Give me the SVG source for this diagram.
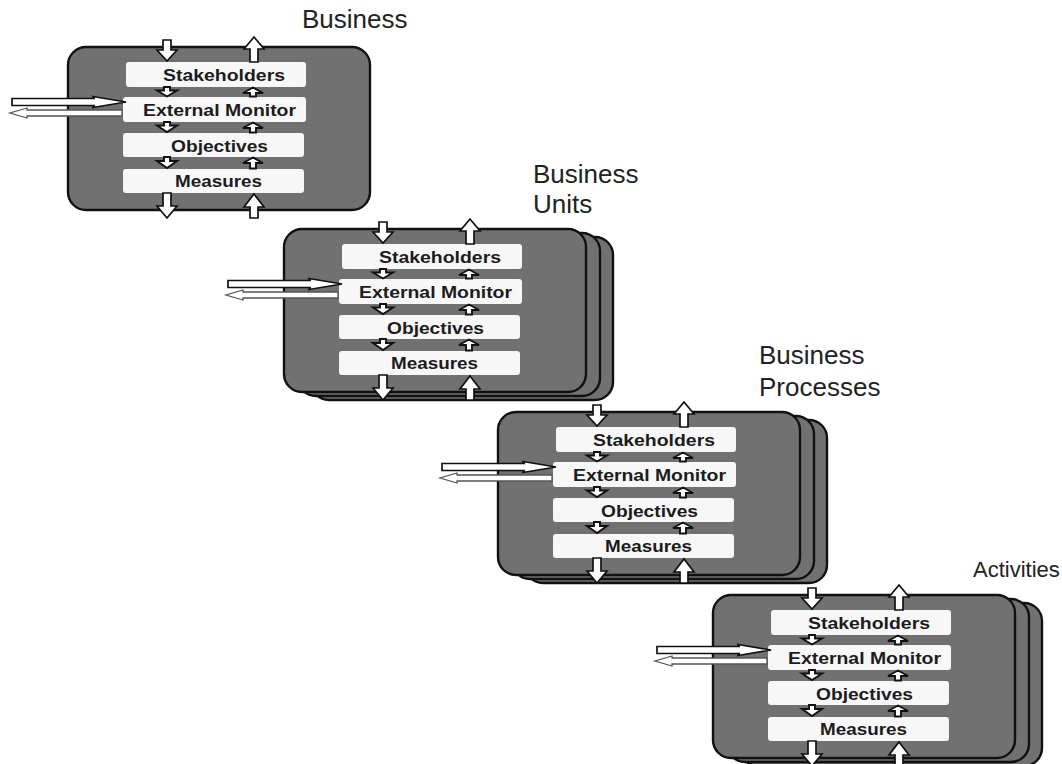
<svg xmlns="http://www.w3.org/2000/svg" width="1062" height="764" viewBox="0 0 1062 764">
<defs>
<style>
.card{fill:#717171;stroke:#111;stroke-width:2.4}
.item{fill:#f7f7f7}
.lbl{font-family:"Liberation Sans",Arial,sans-serif;font-weight:bold;font-size:16px;fill:#1c1c1c;text-anchor:middle}
.title{font-family:"Liberation Sans",Arial,sans-serif;font-size:26px;fill:#222}
.ar{fill:#fff;stroke:#111;stroke-width:1.7;stroke-linejoin:miter}
.sm{fill:#fff;stroke:#111;stroke-width:1.9;stroke-linejoin:miter}
.ar2{fill:#fff;stroke:#555;stroke-width:1.3}
</style>
</defs>
<rect width="1062" height="764" fill="#ffffff"/>

<text class="title" x="302" y="28">Business</text>
<text class="title" x="533" y="183">Business</text>
<text class="title" x="533" y="213">Units</text>
<text class="title" x="759" y="364">Business</text>
<text class="title" x="759" y="396">Processes</text>
<text class="title" x="973" y="577" style="font-size:22px">Activities</text>

<g id="business" transform="translate(0,0)">
  <rect class="card" x="68" y="47" width="302" height="163" rx="18"/>
  <g id="business-stakeholders"><rect class="item" x="126" y="62" width="180" height="25" rx="3"/><text class="lbl" x="224" y="81" textLength="122" lengthAdjust="spacingAndGlyphs">Stakeholders</text></g>
  <g id="business-monitor"><rect class="item" x="123" y="97" width="183" height="25" rx="3"/><text class="lbl" x="219.5" y="116" textLength="153" lengthAdjust="spacingAndGlyphs">External Monitor</text></g>
  <g id="business-objectives"><rect class="item" x="123" y="133" width="181" height="24" rx="3"/><text class="lbl" x="219.5" y="151.5" textLength="97" lengthAdjust="spacingAndGlyphs">Objectives</text></g>
  <g id="business-measures"><rect class="item" x="123" y="169" width="181" height="24" rx="3"/><text class="lbl" x="218.5" y="187" textLength="87" lengthAdjust="spacingAndGlyphs">Measures</text></g>
</g>

<g id="business-units" transform="translate(216,182)">
  <rect class="card" x="95" y="55" width="302" height="163" rx="18"/>
  <rect class="card" x="82" y="51" width="302" height="163" rx="18"/>
  <rect class="card" x="68" y="47" width="302" height="163" rx="18"/>
  <g id="units-stakeholders"><rect class="item" x="126" y="62" width="180" height="25" rx="3"/><text class="lbl" x="224" y="81" textLength="122" lengthAdjust="spacingAndGlyphs">Stakeholders</text></g>
  <g id="units-monitor"><rect class="item" x="123" y="97" width="183" height="25" rx="3"/><text class="lbl" x="219.5" y="116" textLength="153" lengthAdjust="spacingAndGlyphs">External Monitor</text></g>
  <g id="units-objectives"><rect class="item" x="123" y="133" width="181" height="24" rx="3"/><text class="lbl" x="219.5" y="151.5" textLength="97" lengthAdjust="spacingAndGlyphs">Objectives</text></g>
  <g id="units-measures"><rect class="item" x="123" y="169" width="181" height="24" rx="3"/><text class="lbl" x="218.5" y="187" textLength="87" lengthAdjust="spacingAndGlyphs">Measures</text></g>
</g>

<g id="business-processes" transform="translate(430,365)">
  <rect class="card" x="95" y="55" width="302" height="163" rx="18"/>
  <rect class="card" x="82" y="51" width="302" height="163" rx="18"/>
  <rect class="card" x="68" y="47" width="302" height="163" rx="18"/>
  <g id="processes-stakeholders"><rect class="item" x="126" y="62" width="180" height="25" rx="3"/><text class="lbl" x="224" y="81" textLength="122" lengthAdjust="spacingAndGlyphs">Stakeholders</text></g>
  <g id="processes-monitor"><rect class="item" x="123" y="97" width="183" height="25" rx="3"/><text class="lbl" x="219.5" y="116" textLength="153" lengthAdjust="spacingAndGlyphs">External Monitor</text></g>
  <g id="processes-objectives"><rect class="item" x="123" y="133" width="181" height="24" rx="3"/><text class="lbl" x="219.5" y="151.5" textLength="97" lengthAdjust="spacingAndGlyphs">Objectives</text></g>
  <g id="processes-measures"><rect class="item" x="123" y="169" width="181" height="24" rx="3"/><text class="lbl" x="218.5" y="187" textLength="87" lengthAdjust="spacingAndGlyphs">Measures</text></g>
</g>

<g id="activities" transform="translate(645,548)">
  <rect class="card" x="95" y="55" width="302" height="163" rx="18"/>
  <rect class="card" x="82" y="51" width="302" height="163" rx="18"/>
  <rect class="card" x="68" y="47" width="302" height="163" rx="18"/>
  <g id="activities-stakeholders"><rect class="item" x="126" y="62" width="180" height="25" rx="3"/><text class="lbl" x="224" y="81" textLength="122" lengthAdjust="spacingAndGlyphs">Stakeholders</text></g>
  <g id="activities-monitor"><rect class="item" x="123" y="97" width="183" height="25" rx="3"/><text class="lbl" x="219.5" y="116" textLength="153" lengthAdjust="spacingAndGlyphs">External Monitor</text></g>
  <g id="activities-objectives"><rect class="item" x="123" y="133" width="181" height="24" rx="3"/><text class="lbl" x="219.5" y="151.5" textLength="97" lengthAdjust="spacingAndGlyphs">Objectives</text></g>
  <g id="activities-measures"><rect class="item" x="123" y="169" width="181" height="24" rx="3"/><text class="lbl" x="218.5" y="187" textLength="87" lengthAdjust="spacingAndGlyphs">Measures</text></g>
</g>

<defs>
<g id="arrowset">
  <polygon class="ar" points="163,40 171,40 171,50 177,50 167,61 157,50 163,50"/>
  <polygon class="ar" points="254,37 264,49 258,49 258,62 250,62 250,49 244,49"/>
  <polygon class="sm" points="164,87 170,87 170,90.5 177,90.5 167,96.5 157,90.5 164,90.5"/>
  <polygon class="sm" points="253,87.5 263,93 256,93 256,96.5 250,96.5 250,93 243,93"/>
  <polygon class="sm" points="164,122 170,122 170,125.5 177,125.5 167,132 157,125.5 164,125.5"/>
  <polygon class="sm" points="253,122.5 263,128 256,128 256,132.5 250,132.5 250,128 243,128"/>
  <polygon class="sm" points="164,157 170,157 170,161 177,161 167,168 157,161 164,161"/>
  <polygon class="sm" points="253,157.5 263,163 256,163 256,168.5 250,168.5 250,163 243,163"/>
  <polygon class="ar" points="163,193 171,193 171,206 177,206 167,218 157,206 163,206"/>
  <polygon class="ar" points="254,194 264,207 258,207 258,218 250,218 250,207 244,207"/>
  <polygon class="ar" points="12,98.5 94,98.5 93,96.5 126,102 93,107.5 94,105.5 12,105.5"/>
  <polygon class="ar2" points="122,110 27,110 27,108 10,113 27,118 27,116 122,116"/>
</g>
</defs>

<g id="connectors">
  <use href="#arrowset"/>
  <use href="#arrowset" transform="translate(216,182)"/>
  <use href="#arrowset" transform="translate(430,365)"/>
  <use href="#arrowset" transform="translate(645,548)"/>
</g>
</svg>
